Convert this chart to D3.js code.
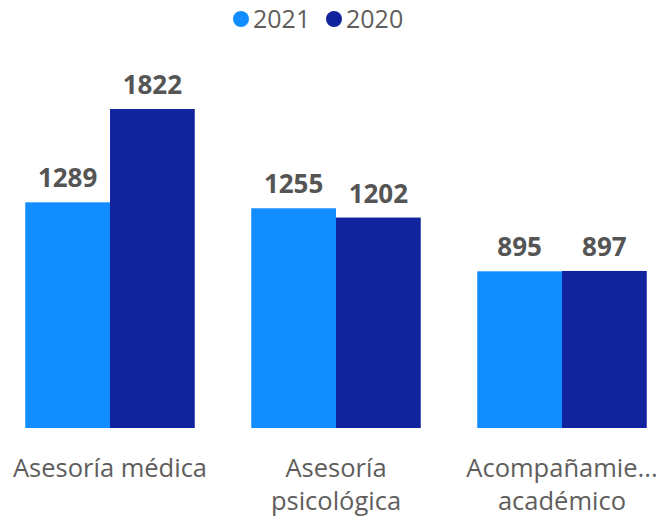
<!DOCTYPE html>
<html><head><meta charset="utf-8">
<script src="https://cdn.jsdelivr.net/npm/d3@7"></script>
<style>body{margin:0;background:#fff;} svg{display:block;}</style>
</head><body>
<svg id="c" width="667" height="525"></svg>
<script>
const categories = [["Asesoría médica"], ["Asesoría", "psicológica"], ["Acompañamie...", "académico"]];
const seriesNames = ["2021", "2020"];
const values2021 = [1289, 1255, 895];
const values2020 = [1822, 1202, 897];
const colors = ["#118DFF", "#12239E"];

const svg = d3.select("#c");
const font = "'Open Sans', 'Noto Sans', sans-serif";
const series = [values2021, values2020];

const x0 = d3.scaleBand().domain(d3.range(categories.length)).range([-3, 675]).paddingInner(0.25).paddingOuter(0.125);
const x1 = d3.scaleBand().domain(d3.range(seriesNames.length)).range([0, x0.bandwidth()]);
const y = d3.scaleLinear().domain([0, 1822]).range([428, 109]);

const g = svg.append("g");
categories.forEach((c, i) => {
  series.forEach((s, j) => {
    const xp = x0(i) + x1(j);
    g.append("rect").attr("x", xp).attr("y", y(s[i])).attr("width", x1.bandwidth()).attr("height", y(0) - y(s[i])).attr("fill", colors[j]);
    g.append("text").attr("x", xp + x1.bandwidth() / 2).attr("y", y(s[i]) - 15)
      .attr("text-anchor", "middle").attr("font-family", font).attr("font-weight", "bold")
      .attr("font-size", 26).attr("fill", "#555555").text(s[i]);
  });
  const cx = x0(i) + x0.bandwidth() / 2;
  const t = g.append("text").attr("text-anchor", "middle").attr("font-family", font).attr("font-size", 25.5).attr("fill", "#605E5C");
  c.forEach((line, k) => t.append("tspan").attr("x", cx).attr("y", 477 + k * 33).text(line));
});

// legend
const leg = svg.append("g");
const legX = [241, 334];
seriesNames.forEach((n, j) => {
  leg.append("circle").attr("cx", legX[j]).attr("cy", 19).attr("r", 8).attr("fill", colors[j]);
  leg.append("text").attr("x", legX[j] + 12).attr("y", 27.5).attr("font-family", font).attr("font-size", 25).attr("fill", "#605E5C").text(n);
});
</script>
</body></html>
